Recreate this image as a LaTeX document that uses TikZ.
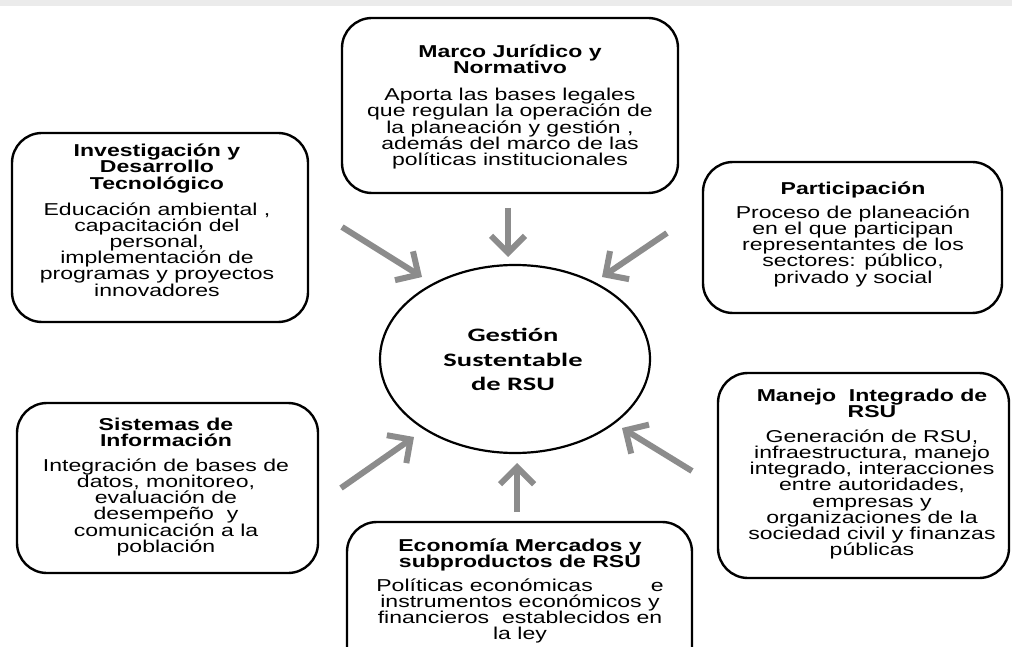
\documentclass[tikz,border=0pt]{standalone}
\usepackage{fontspec}
\setmainfont{Liberation Sans}[FakeStretch=1.34]
\newfontfamily\ellfont{Carlito}[FakeStretch=1.5]
\usetikzlibrary{arrows.meta,shapes.geometric}

\definecolor{flowgray}{HTML}{8C8C8C}
\definecolor{bandgray}{HTML}{EBEBEB}

% fonts for the six surrounding panels
\newcommand\paneltitle{\fontsize{17.2bp}{16.2bp}\selectfont\bfseries}
\newcommand\panelbody{\fontsize{17.2bp}{16.2bp}\selectfont\mdseries}
% #1 extra gap between heading and body, #2 heading lines, #3 body lines
\newcommand\panelcontent[3]{\parbox[t]{330bp}{\lineskiplimit=-100bp\centering
  \paneltitle #2\par\vspace{#1}\panelbody #3\par}}

\begin{document}
\begin{tikzpicture}[x=1bp,y=-1bp,
  panel/.style={draw, line width=2.4bp, rounded corners=30bp, inner sep=0pt, anchor=center},
  flow/.style={draw=flowgray, line width=6bp, -{Straight Barb[length=17bp,width=34bp]}},
  label/.style={anchor=base, inner sep=0pt, text=black}]
\useasboundingbox (0,0) rectangle (1012,647);
\clip (0,0) rectangle (1012,647);
\fill[bandgray] (0,0) rectangle (1012,6);

% panel outlines
\node[panel, minimum width=336bp, minimum height=175bp] (marco) at (510,105.5) {};
\node[panel, minimum width=296bp, minimum height=189bp] (inv)   at (160,227.5) {};
\node[panel, minimum width=299bp, minimum height=151bp] (part)  at (852.5,237.5) {};
\node[panel, minimum width=301bp, minimum height=170bp] (sis)   at (167.5,488) {};
\node[panel, minimum width=291bp, minimum height=205bp] (man)   at (863.5,475.5) {};
\node[panel, minimum width=345bp, minimum height=158bp] (eco)   at (519.5,601) {};

% panel texts
\node[label] (marcoT) at (510,57.5) {\panelcontent{10.8bp}{Marco Jurídico y\\Normativo}
  {Aporta las bases legales\\que regulan la operación de\\la planeación y gestión ,\\además del marco de las\\políticas institucionales}};
\node[label] (invT) at (157,156.7) {\panelcontent{9.8bp}{Investigación y\\Desarrollo\\Tecnológico}
  {Educación ambiental ,\\capacitación del\\personal,\\implementación de\\programas y proyectos\\innovadores}};
\node[label] (partT) at (853,195) {\panelcontent{7.1bp}{Participación}
  {Proceso de planeación\\en el que participan\\representantes de los\\sectores: público,\\privado y social}};
\node[label] (sisT) at (166,430) {\panelcontent{8.8bp}{Sistemas de\\Información}
  {Integración de bases de\\datos, monitoreo,\\evaluación de\\desempeño~ y\\comunicación a la\\población}};
\node[label] (manT) at (872,401.7) {\panelcontent{8.2bp}{Manejo~~Integrado de\\RSU}
  {Generación de RSU,\\infraestructura, manejo\\integrado, interacciones\\entre autoridades,\\empresas y\\organizaciones de la\\sociedad civil y finanzas\\públicas}};
\node[label] (ecoT) at (520,551.7) {\panelcontent{7.1bp}{Economía Mercados y\\subproductos de RSU}
  {Políticas económicas\hspace{58bp}e\\instrumentos económicos y\\financieros~ establecidos en\\la ley}};

% central element
\node[draw, ellipse, line width=2.2bp, minimum width=270bp, minimum height=188bp, inner sep=0pt] (g) at (515,359) {};
\node[label] (gT) at (513,341.7) {\parbox[t]{200bp}{\centering\ellfont\bfseries
  \fontsize{19bp}{24.5bp}\selectfont Gestión\\Sustentable\\de RSU}};

% arrow end points
\coordinate (invS) at (342,227);   \coordinate (invE) at (422,277);
\coordinate (marS) at (508,208);   \coordinate (marE) at (508,257);
\coordinate (parS) at (667,233);   \coordinate (parE) at (602,277);
\coordinate (sisS) at (341,488);   \coordinate (sisE) at (414,437);
\coordinate (ecoS) at (517,512);   \coordinate (ecoE) at (517,463);
\coordinate (manS) at (692,471);   \coordinate (manE) at (622,428);

\draw[flow] (invS) -- (invE);
\draw[flow] (marS) -- (marE);
\draw[flow] (parS) -- (parE);
\draw[flow] (sisS) -- (sisE);
\draw[flow] (ecoS) -- (ecoE);
\draw[flow] (manS) -- (manE);
\end{tikzpicture}
\end{document}
